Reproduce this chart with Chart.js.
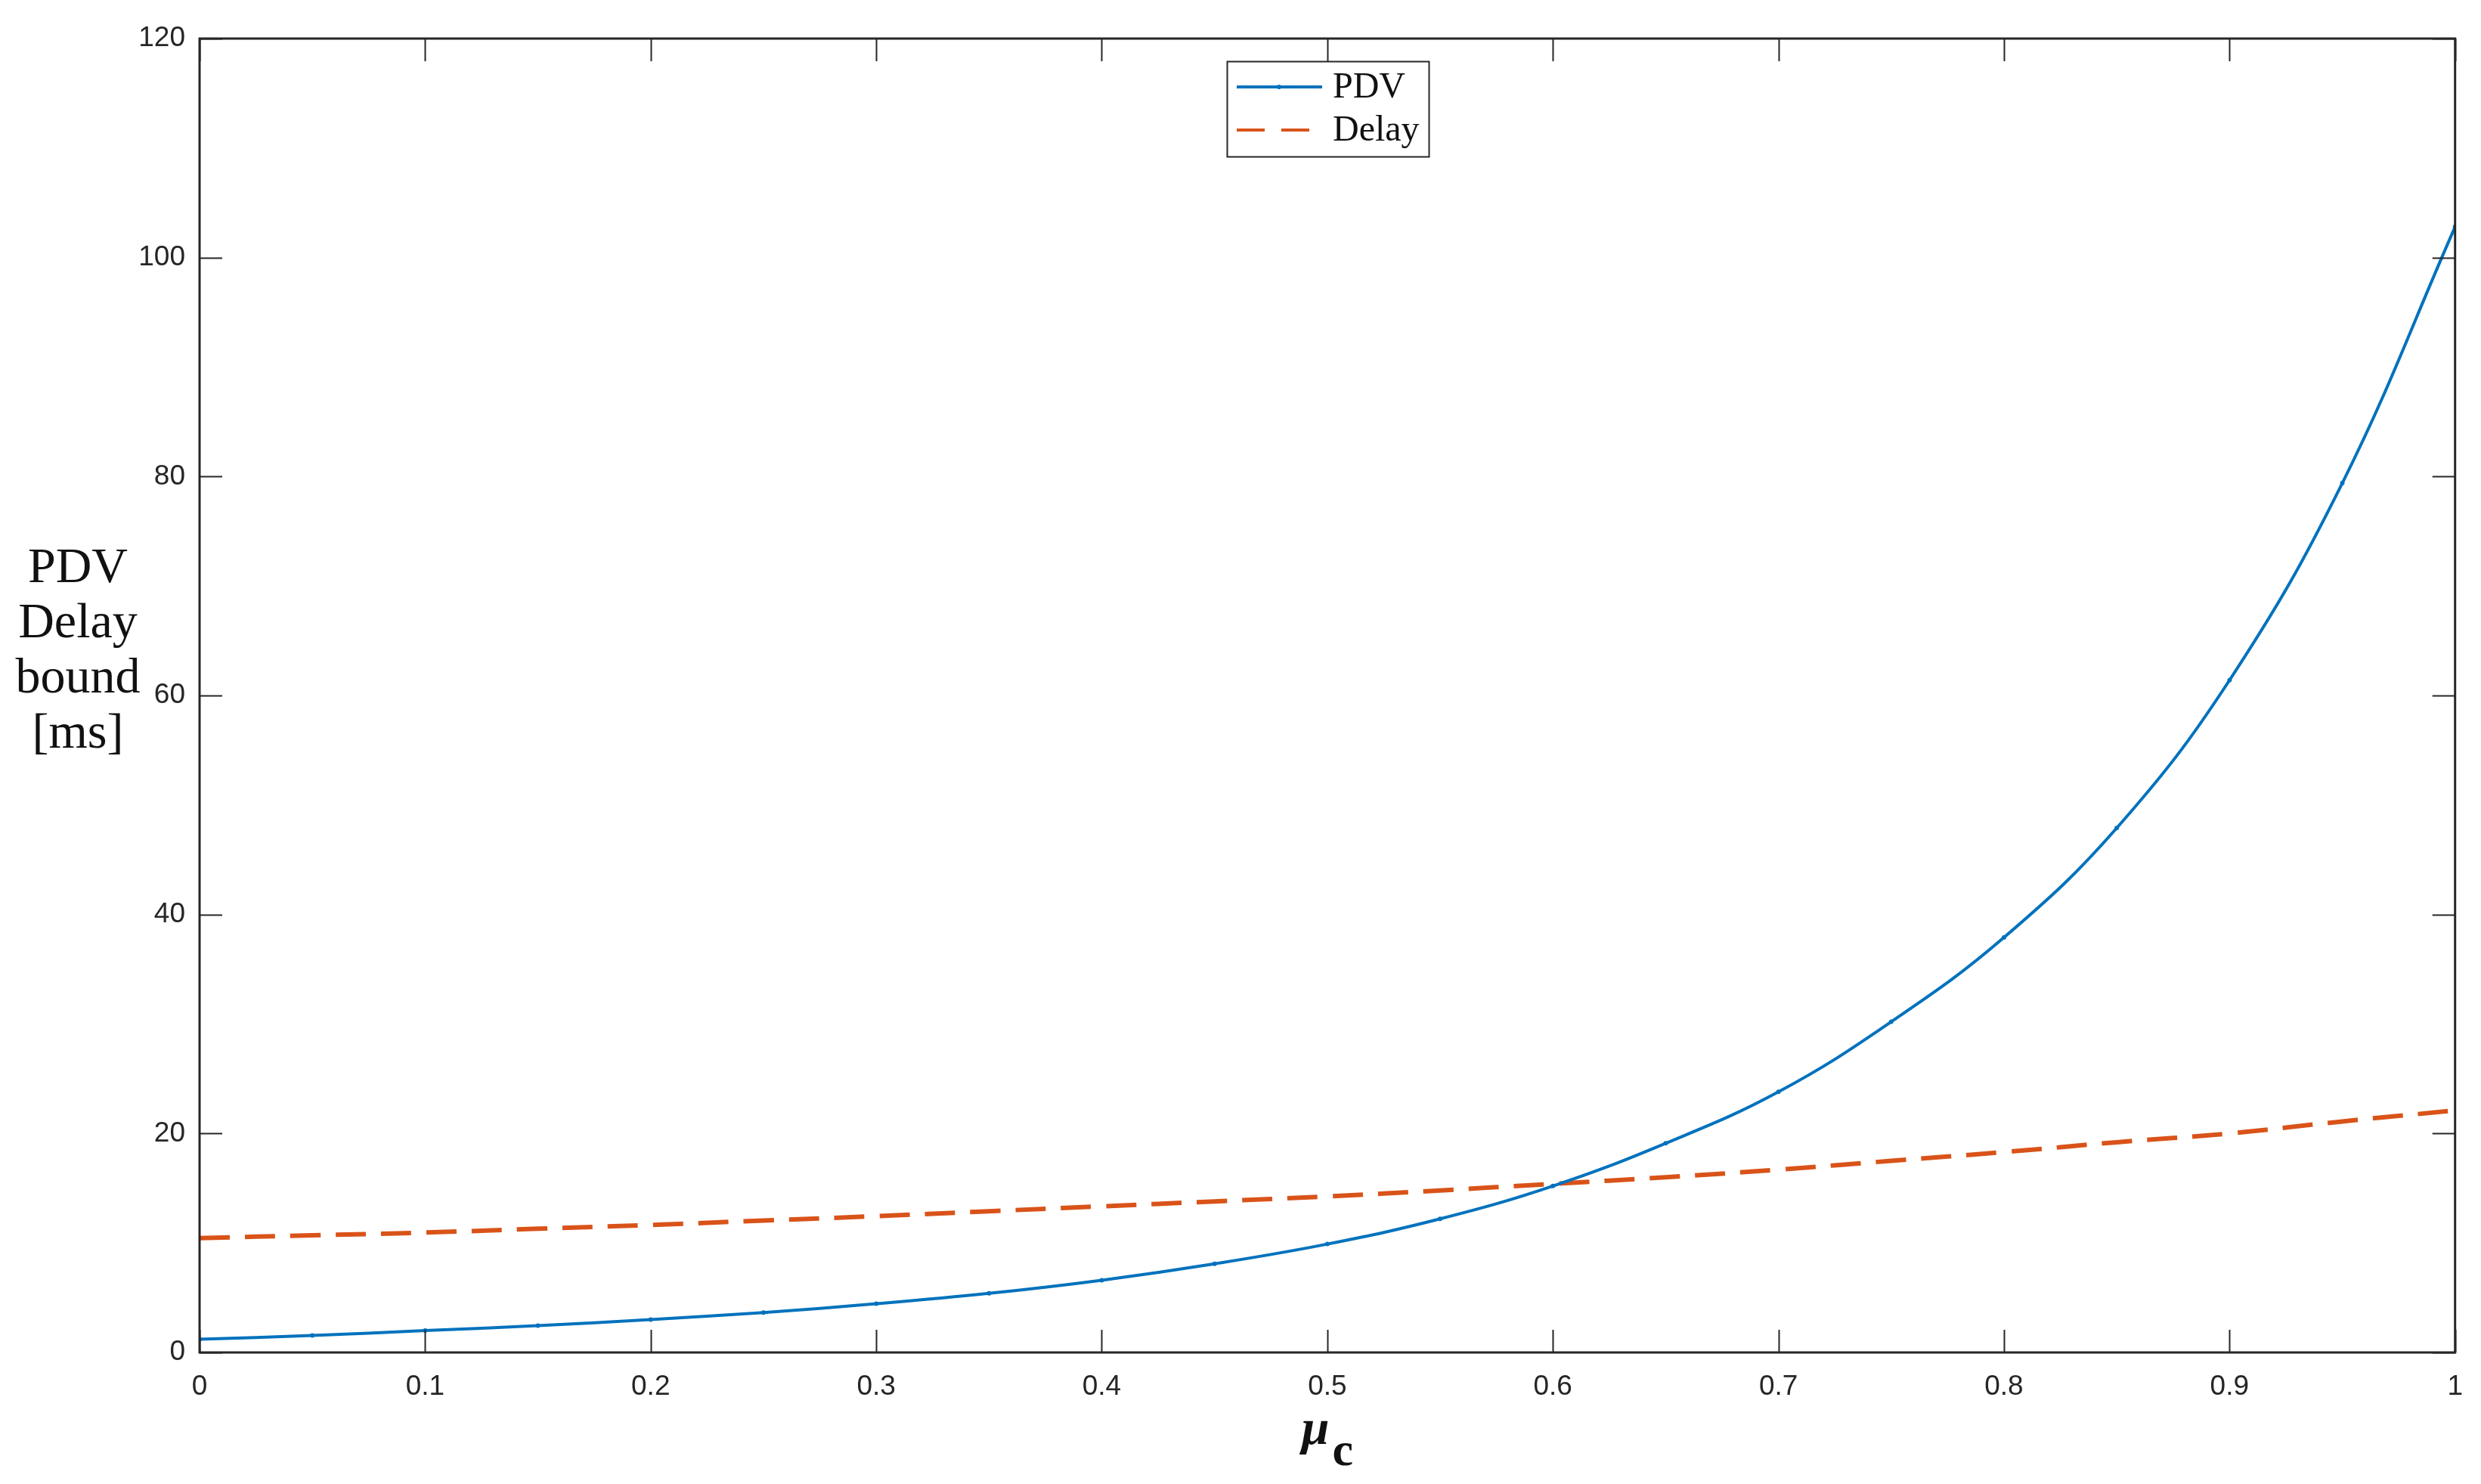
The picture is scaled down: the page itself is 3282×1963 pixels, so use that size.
<!DOCTYPE html>
<html>
<head>
<meta charset="utf-8">
<script src="https://cdn.jsdelivr.net/npm/chart.js@4.4.1/dist/chart.umd.min.js"></script>
<style>
  html, body { margin: 0; padding: 0; background: #ffffff; }
  #graphique { display: block; }
</style>
</head>
<body>
<canvas id="graphique" width="3282" height="1963" style="width:3282px;height:1963px;"></canvas>
<script>
// valeurs
var muC = [0, 0.05, 0.1, 0.15, 0.2, 0.25, 0.3, 0.35, 0.4, 0.45, 0.5,
           0.55, 0.6, 0.65, 0.7, 0.75, 0.8, 0.85, 0.9, 0.95, 1];
var pdv = [1.2, 1.55, 2.0, 2.45, 3.0, 3.65, 4.45, 5.4, 6.6, 8.1, 9.9,
           12.2, 15.2, 19.1, 23.8, 30.2, 37.9, 47.9, 61.4, 79.4, 102.8];
var delay = [10.45, 10.7, 10.95, 11.3, 11.65, 12.05, 12.45, 12.9, 13.35, 13.8, 14.25,
             14.8, 15.4, 16.0, 16.7, 17.5, 18.3, 19.2, 20.0, 21.1, 22.1];
var xTicks = [0, 0.1, 0.2, 0.3, 0.4, 0.5, 0.6, 0.7, 0.8, 0.9, 1];
var yTicks = [0, 20, 40, 60, 80, 100, 120];
var yTitre = ["PDV", "Delay", "bound", "[ms]"];

var bleu = "#0072BD";
var orange = "#D95319";
var gris = "#262626";
var serif = "'Liberation Serif', 'DejaVu Serif', serif";

function points(ys) {
    return muC.map(function (x, i) { return { x: x, y: ys[i] }; });
}

// cadre, graduations interieures, titres et legende
var decor = {
    id: 'decor',
    afterDraw: function (chart) {
        var ctx = chart.ctx;
        var a = chart.chartArea;
        var sx = chart.scales.x, sy = chart.scales.y;
        var tl = 30;
        ctx.save();
        ctx.strokeStyle = gris;
        ctx.lineWidth = 2;
        sx.ticks.forEach(function (t) {
            var px = Math.round(sx.getPixelForValue(t.value)) + 0.5;
            ctx.beginPath();
            ctx.moveTo(px, a.bottom); ctx.lineTo(px, a.bottom - tl);
            ctx.moveTo(px, a.top); ctx.lineTo(px, a.top + tl);
            ctx.stroke();
        });
        sy.ticks.forEach(function (t) {
            var py = Math.round(sy.getPixelForValue(t.value)) + 0.5;
            ctx.beginPath();
            ctx.moveTo(a.left, py); ctx.lineTo(a.left + tl, py);
            ctx.moveTo(a.right, py); ctx.lineTo(a.right - tl, py);
            ctx.stroke();
        });
        ctx.lineWidth = 3;
        ctx.strokeRect(a.left, a.top, a.right - a.left, a.bottom - a.top);

        // titre axe y, horizontal sur plusieurs lignes
        ctx.fillStyle = "#111111";
        ctx.font = "66px " + serif;
        ctx.textAlign = "center";
        ctx.textBaseline = "alphabetic";
        yTitre.forEach(function (l, i) {
            ctx.fillText(l, 103, 770 + i * 73);
        });

        // titre axe x : mu indice c
        var cx = (a.left + a.right) / 2;
        ctx.textAlign = "left";
        ctx.font = "italic bold 66px " + serif;
        var wMu = ctx.measureText("\u03bc").width;
        ctx.font = "bold 62px " + serif;
        var wC = ctx.measureText("c").width;
        var x0 = cx - (wMu + 4 + wC) / 2;
        ctx.font = "italic bold 66px " + serif;
        ctx.fillText("\u03bc", x0, 1910);
        ctx.font = "bold 62px " + serif;
        ctx.fillText("c", x0 + wMu + 4, 1938);

        // legende
        var lx = 1623, ly = 81, lw = 267, lh = 126;
        ctx.fillStyle = "#ffffff";
        ctx.fillRect(lx, ly, lw, lh);
        ctx.strokeStyle = gris;
        ctx.lineWidth = 2;
        ctx.strokeRect(lx + 0.5, ly + 0.5, lw, lh);
        var rangs = [115, 172];
        chart.data.datasets.forEach(function (ds, i) {
            var y = rangs[i];
            ctx.strokeStyle = ds.borderColor;
            ctx.lineWidth = 4;
            ctx.setLineDash(ds.borderDash && ds.borderDash.length ? [37, 22] : []);
            ctx.beginPath();
            ctx.moveTo(1636, y); ctx.lineTo(1749, y);
            ctx.stroke();
            ctx.setLineDash([]);
            if (ds.pointRadius > 0) {
                ctx.fillStyle = ds.borderColor;
                ctx.beginPath();
                ctx.arc(1692, y, 3, 0, Math.PI * 2);
                ctx.fill();
            }
            ctx.fillStyle = "#111111";
            ctx.font = "48px " + serif;
            ctx.textBaseline = "middle";
            ctx.fillText(ds.label, 1763, y + 1);
        });
        ctx.restore();
    }
};

var ctx = document.getElementById('graphique').getContext('2d');

var graphique = new Chart(ctx, {
    type: 'line',
    data: {
        datasets: [
            {
                label: "PDV",
                data: points(pdv),
                borderColor: bleu,
                backgroundColor: bleu,
                borderWidth: 4,
                pointRadius: 3,
                pointBorderWidth: 0,
                pointBackgroundColor: bleu,
                tension: 0.4,
                fill: false
            },
            {
                label: "Delay",
                data: points(delay),
                borderColor: orange,
                backgroundColor: orange,
                borderWidth: 6,
                borderDash: [40, 20],
                pointRadius: 0,
                tension: 0.4,
                fill: false
            }
        ]
    },
    options: {
        responsive: false,
        animation: false,
        devicePixelRatio: 1,
        layout: { padding: { top: 51, right: 34, left: 0, bottom: 0 } },
        plugins: {
            legend: { display: false },
            tooltip: { enabled: false }
        },
        scales: {
            x: {
                type: 'linear',
                min: 0,
                max: 1,
                afterFit: function (s) { s.height = 174; },
                afterBuildTicks: function (s) { s.ticks = xTicks.map(function (v) { return { value: v }; }); },
                ticks: {
                    autoSkip: false,
                    maxRotation: 0,
                    padding: 24,
                    color: gris,
                    font: { family: "'Liberation Sans', Arial, sans-serif", size: 37 },
                    callback: function (v) { return String(+Number(v).toFixed(1)); }
                },
                grid: { display: false, drawTicks: false },
                border: { display: false }
            },
            y: {
                min: 0,
                max: 120,
                afterFit: function (s) { s.width = 264; },
                afterBuildTicks: function (s) { s.ticks = yTicks.map(function (v) { return { value: v }; }); },
                ticks: {
                    padding: 19,
                    color: gris,
                    font: { family: "'Liberation Sans', Arial, sans-serif", size: 37 }
                },
                grid: { display: false, drawTicks: false },
                border: { display: false }
            }
        }
    },
    plugins: [decor]
});
</script>
</body>
</html>
